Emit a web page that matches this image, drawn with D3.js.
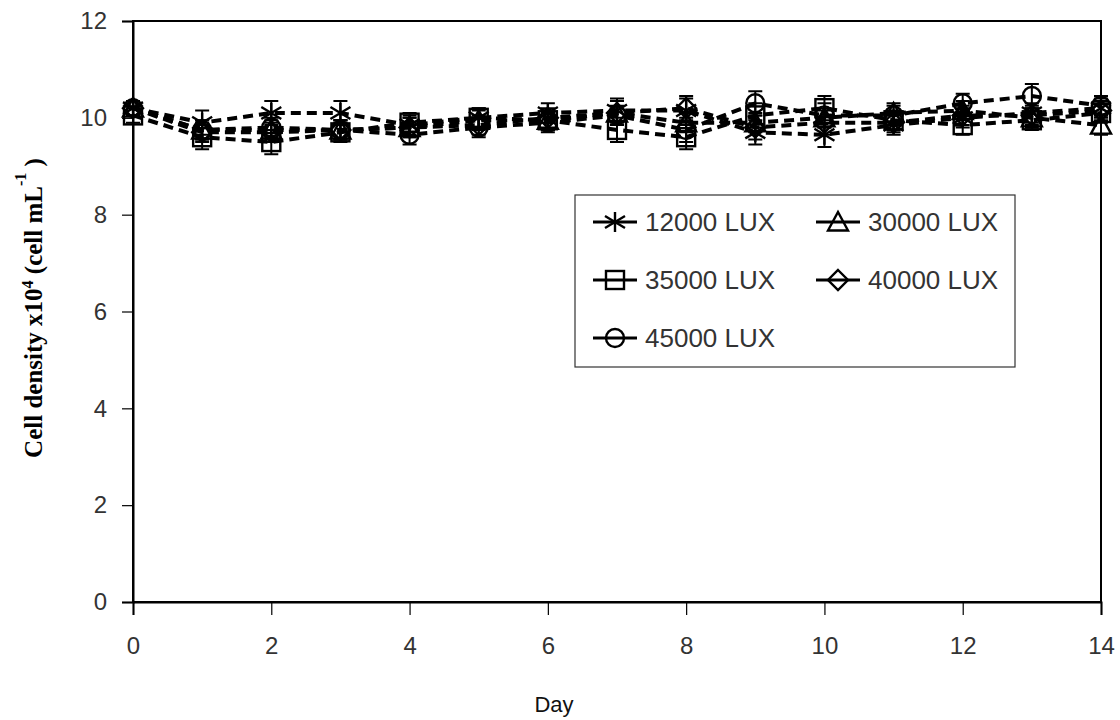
<!DOCTYPE html>
<html>
<head>
<meta charset="utf-8">
<script src="https://cdn.jsdelivr.net/npm/d3@7"></script>
<style>
  body { margin: 0; background: #fff; }
  text { font-family: "Liberation Sans", Arial, sans-serif; }
</style>
</head>
<body>
<script>
var days = [0, 1, 2, 3, 4, 5, 6, 7, 8, 9, 10, 11, 12, 13, 14];
var xTicks = [0, 2, 4, 6, 8, 10, 12, 14];
var yTicks = [0, 2, 4, 6, 8, 10, 12];

var lux12000 = [10.2, 9.9, 10.1, 10.1, 9.85, 10.0, 10.1, 10.15, 10.15, 9.7, 9.65, 9.85, 10.0, 10.1, 10.2];
var lux30000 = [10.2, 9.75, 9.75, 9.75, 9.8, 9.95, 9.95, 10.1, 9.9, 9.9, 10.0, 10.1, 10.15, 10.0, 9.85];
var lux35000 = [10.05, 9.6, 9.5, 9.7, 9.9, 10.0, 9.95, 9.75, 9.6, 10.05, 10.2, 9.95, 9.85, 9.95, 10.1];
var lux40000 = [10.2, 9.7, 9.7, 9.75, 9.8, 9.85, 10.0, 10.1, 10.2, 9.8, 9.9, 9.9, 10.05, 10.05, 10.15];
var lux45000 = [10.2, 9.75, 9.8, 9.75, 9.65, 9.8, 9.9, 10.05, 9.75, 10.3, 10.05, 10.05, 10.3, 10.45, 10.25];

var err12000 = [0.15, 0.25, 0.25, 0.25, 0.2, 0.2, 0.2, 0.25, 0.25, 0.25, 0.25, 0.2, 0.2, 0.2, 0.2];
var err30000 = [0.15, 0.2, 0.2, 0.2, 0.2, 0.2, 0.2, 0.25, 0.2, 0.2, 0.2, 0.2, 0.2, 0.2, 0.2];
var err35000 = [0.15, 0.25, 0.25, 0.2, 0.2, 0.2, 0.2, 0.25, 0.25, 0.25, 0.25, 0.2, 0.2, 0.2, 0.2];
var err40000 = [0.15, 0.2, 0.2, 0.2, 0.2, 0.2, 0.2, 0.25, 0.25, 0.25, 0.25, 0.2, 0.2, 0.2, 0.2];
var err45000 = [0.15, 0.2, 0.2, 0.2, 0.2, 0.2, 0.2, 0.2, 0.25, 0.25, 0.25, 0.2, 0.2, 0.25, 0.2];

var seriesNames = ["12000 LUX", "30000 LUX", "35000 LUX", "40000 LUX", "45000 LUX"];
var seriesMarkers = ["asterisk", "triangle", "square", "diamond", "circle"];

var series = [
  { name: seriesNames[0], marker: seriesMarkers[0], values: lux12000, err: err12000 },
  { name: seriesNames[1], marker: seriesMarkers[1], values: lux30000, err: err30000 },
  { name: seriesNames[2], marker: seriesMarkers[2], values: lux35000, err: err35000 },
  { name: seriesNames[3], marker: seriesMarkers[3], values: lux40000, err: err40000 },
  { name: seriesNames[4], marker: seriesMarkers[4], values: lux45000, err: err45000 }
];

var margin = {top: 21, right: 19, bottom: 118, left: 133},
    width = 1120 - margin.left - margin.right,
    height = 720 - margin.top - margin.bottom;

var svg = d3.select("body").append("svg")
    .attr("width", 1120)
    .attr("height", 720);

var g = svg.append("g")
    .attr("transform", "translate(" + margin.left + "," + margin.top + ")");

var x = d3.scaleLinear().domain([0, 14]).range([0, width]);
var y = d3.scaleLinear().domain([0, 12]).range([height, 0]);

// plot border
g.append("rect")
  .attr("x", 0).attr("y", 0)
  .attr("width", width).attr("height", height)
  .attr("fill", "none")
  .attr("stroke", "#000")
  .attr("stroke-width", 2);

var yAxis = d3.axisLeft(y).tickValues(yTicks).tickSize(11).tickPadding(15).tickFormat(d3.format("d"));
var xAxis = d3.axisBottom(x).tickValues(xTicks).tickSize(13).tickPadding(22).tickFormat(d3.format("d"));

var gy = g.append("g").attr("class", "y axis").call(yAxis);
var gx = g.append("g").attr("class", "x axis")
    .attr("transform", "translate(0," + height + ")")
    .call(xAxis);

[gx, gy].forEach(function(a) {
  a.select(".domain").attr("stroke", "#000").attr("stroke-width", 2);
  a.selectAll(".tick line").attr("stroke", "#000").attr("stroke-width", 1.2);
  a.selectAll(".tick text")
    .attr("fill", "#333")
    .style("font-size", "24px")
    .style("font-family", "'Liberation Sans', Arial, sans-serif");
});

// x axis title
svg.append("text")
  .attr("x", 554)
  .attr("y", 712)
  .attr("text-anchor", "middle")
  .style("font-size", "22px")
  .attr("fill", "#111")
  .text("Day");

// y axis title
var yt = svg.append("text")
  .attr("transform", "translate(42," + 308 + ") rotate(-90)")
  .attr("text-anchor", "middle")
  .style("font-family", "'Liberation Serif', 'Times New Roman', serif")
  .style("font-weight", "bold")
  .style("font-size", "25px")
  .attr("fill", "#000");
yt.append("tspan").text("Cell density x10");
yt.append("tspan").attr("dy", -9).style("font-size", "16px").text("4");
yt.append("tspan").attr("dy", 9).text(" (cell mL");
yt.append("tspan").attr("dy", -16).style("font-size", "16px").text("-1");
yt.append("tspan").attr("dy", 16).text(" )");

// marker drawing
function drawMarker(sel, type, s) {
  var r = s / 2;
  if (type === "asterisk") {
    sel.append("path")
      .attr("d", "M" + (-r) + "," + (-r * 0.6) + "L" + r + "," + (r * 0.6) +
                 "M" + (-r) + "," + (r * 0.6) + "L" + r + "," + (-r * 0.6) +
                 "M0," + (-r) + "L0," + r)
      .attr("fill", "none").attr("stroke", "#000").attr("stroke-width", 2.4);
  } else if (type === "triangle") {
    sel.append("path")
      .attr("d", "M0," + (-r) + "L" + r + "," + (r * 0.85) + "L" + (-r) + "," + (r * 0.85) + "Z")
      .attr("fill", "none").attr("stroke", "#000").attr("stroke-width", 2.4);
  } else if (type === "square") {
    sel.append("rect")
      .attr("x", -r * 0.9).attr("y", -r * 0.9).attr("width", r * 1.8).attr("height", r * 1.8)
      .attr("fill", "none").attr("stroke", "#000").attr("stroke-width", 2.4);
  } else if (type === "diamond") {
    sel.append("path")
      .attr("d", "M0," + (-r) + "L" + r + ",0L0," + r + "L" + (-r) + ",0Z")
      .attr("fill", "none").attr("stroke", "#000").attr("stroke-width", 2.4);
  } else {
    sel.append("circle").attr("r", r * 0.9)
      .attr("fill", "none").attr("stroke", "#000").attr("stroke-width", 2.4);
  }
}

var line = d3.line()
  .x(function(d, i) { return x(days[i]); })
  .y(function(d) { return y(d); });

// dashed lines
g.selectAll(".series-line")
  .data(series)
  .enter().append("path")
  .attr("class", "series-line")
  .attr("d", function(d) { return line(d.values); })
  .attr("fill", "none")
  .attr("stroke", "#000")
  .attr("stroke-width", 4)
  .attr("stroke-dasharray", "10,6");

// error bars and markers
series.forEach(function(s) {
  var pts = g.append("g").selectAll("g")
    .data(s.values.map(function(v, i) { return { day: days[i], v: v, e: s.err[i] }; }))
    .enter().append("g");

  pts.append("path")
    .attr("d", function(d) {
      var cx = x(d.day), y1 = y(d.v + d.e), y2 = y(d.v - d.e);
      return "M" + cx + "," + y1 + "L" + cx + "," + y2 +
             "M" + (cx - 7) + "," + y1 + "L" + (cx + 7) + "," + y1 +
             "M" + (cx - 7) + "," + y2 + "L" + (cx + 7) + "," + y2;
    })
    .attr("stroke", "#000").attr("stroke-width", 2).attr("fill", "none");

  pts.each(function(d) {
    var m = d3.select(this).append("g")
      .attr("transform", "translate(" + x(d.day) + "," + y(d.v) + ")");
    drawMarker(m, s.marker, 20);
  });
});

// legend
var legend = svg.append("g").attr("transform", "translate(575,195)");
legend.append("rect")
  .attr("width", 440).attr("height", 172)
  .attr("fill", "#fff").attr("stroke", "#333").attr("stroke-width", 1.2);

var legPos = [[40, 27], [263, 27], [40, 85], [263, 85], [40, 143]];
series.forEach(function(s, i) {
  var it = legend.append("g").attr("transform", "translate(" + legPos[i][0] + "," + legPos[i][1] + ")");
  it.append("line").attr("x1", -22).attr("x2", 22)
    .attr("stroke", "#000").attr("stroke-width", 3);
  var m = it.append("g");
  drawMarker(m, s.marker, 20);
  it.append("text")
    .attr("x", 30).attr("y", 9)
    .style("font-size", "26px")
    .attr("fill", "#333")
    .text(s.name);
});
</script>
</body>
</html>
